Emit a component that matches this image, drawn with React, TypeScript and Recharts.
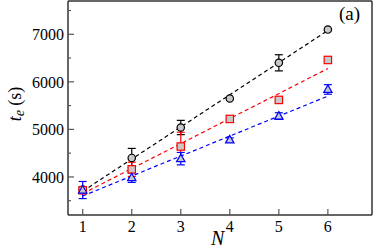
import { ComposedChart, Line, Scatter, ErrorBar, XAxis, YAxis } from "recharts";

const nValues = [1, 2, 3, 4, 5, 6];

const blackTe = [3735, 4400, 5040, 5650, 6400, 7100];
const blackErr = [60, 200, 150, null, 170, null];
const redTe = [3720, 4160, 4640, 5220, 5620, 6460];
const redErr = [60, 150, 300, null, null, null];
const blueTe = [3725, 3985, 4385, 4780, 5280, 5840];
const blueErr = [180, 100, 130, 40, 70, 100];

const fitN = [1, 6];
const blackFit = [3700, 7080];
const redFit = [3650, 6280];
const blueFit = [3600, 5700];

const xTicks = [1, 2, 3, 4, 5, 6];
const yTicks = [3500, 4000, 4500, 5000, 5500, 6000, 6500, 7000, 7500];

const FONT = "Liberation Serif, Times New Roman, DejaVu Serif, serif";

const points = (vals: number[], errs: (number | null)[]) =>
  nValues.map((n, i) => ({ n, y: vals[i], err: errs[i] }));
const fit = (vals: number[]) => fitN.map((n, i) => ({ n, y: vals[i] }));

const BottomTick = (props: any) => {
  const { x, y, payload } = props;
  return (
    <g>
      <line x1={x} y1={y} x2={x} y2={y - 6} stroke="#555" strokeWidth={1.2} />
      <text x={x} y={y + 17} textAnchor="middle" fontSize={16} fontFamily={FONT} fill="#000">
        {payload.value}
      </text>
    </g>
  );
};

const TopTick = (props: any) => {
  const { x, y } = props;
  return <line x1={x} y1={y} x2={x} y2={y + 6} stroke="#555" strokeWidth={1.2} />;
};

const LeftTick = (props: any) => {
  const { x, y, payload } = props;
  const major = payload.value % 1000 === 0;
  return (
    <g>
      <line x1={x} y1={y} x2={x + (major ? 6 : 3)} y2={y} stroke="#555" strokeWidth={1.2} />
      {major && (
        <text x={x - 4} y={y + 6} textAnchor="end" fontSize={16} fontFamily={FONT} fill="#000">
          {payload.value}
        </text>
      )}
    </g>
  );
};

const RightTick = (props: any) => {
  const { x, y, payload } = props;
  const major = payload.value % 1000 === 0;
  return <line x1={x} y1={y} x2={x - (major ? 6 : 3)} y2={y} stroke="#555" strokeWidth={1.2} />;
};

const circleShape = (p: any) => (
  <circle cx={p.cx} cy={p.cy} r={3.7} fill="#c8c8c8" stroke="#000" strokeWidth={1.2} />
);
const squareShape = (p: any) => (
  <rect x={p.cx - 3.7} y={p.cy - 3.7} width={7.4} height={7.4} fill="#c8c8c8" stroke="#ff0000" strokeWidth={1.2} />
);
const triangleShape = (p: any) => (
  <polygon
    points={`${p.cx},${p.cy - 4.5} ${p.cx - 4.2},${p.cy + 3} ${p.cx + 4.2},${p.cy + 3}`}
    fill="#c8c8c8"
    stroke="#0000ff"
    strokeWidth={1.2}
  />
);

export default function App() {
  return (
    <div style={{ position: "absolute", left: 0, top: 0, fontFamily: FONT }}>
      <ComposedChart width={374} height={249} margin={{ top: 0, right: 1, left: 0, bottom: 0 }}>
        <XAxis
          xAxisId={0}
          dataKey="n"
          type="number"
          domain={[0.7, 6.9]}
          ticks={xTicks}
          height={34}
          stroke="#333"
          strokeWidth={1.5}
          tickLine={false}
          tickSize={0}
          tickMargin={0}
          tick={BottomTick}
        />
        <XAxis
          xAxisId="top"
          orientation="top"
          dataKey="n"
          type="number"
          domain={[0.7, 6.9]}
          ticks={xTicks}
          height={1}
          stroke="#333"
          strokeWidth={1.5}
          tickLine={false}
          tickSize={0}
          tickMargin={0}
          tick={TopTick}
        />
        <YAxis
          yAxisId={0}
          type="number"
          domain={[3200, 7700]}
          ticks={yTicks}
          width={68}
          stroke="#333"
          strokeWidth={1.5}
          tickLine={false}
          tickSize={0}
          tickMargin={0}
          tick={LeftTick}
        />
        <YAxis
          yAxisId="right"
          orientation="right"
          type="number"
          domain={[3200, 7700]}
          ticks={yTicks}
          width={1}
          stroke="#333"
          strokeWidth={1.5}
          tickLine={false}
          tickSize={0}
          tickMargin={0}
          tick={RightTick}
        />

        <Line data={fit(blackFit)} dataKey="y" stroke="#000" strokeWidth={1.2} strokeDasharray="4 3" dot={false} isAnimationActive={false} />
        <Line data={fit(redFit)} dataKey="y" stroke="#ff0000" strokeWidth={1.2} strokeDasharray="4 3" dot={false} isAnimationActive={false} />
        <Line data={fit(blueFit)} dataKey="y" stroke="#0000ff" strokeWidth={1.2} strokeDasharray="4 3" dot={false} isAnimationActive={false} />

        <Scatter data={points(blackTe, blackErr)} dataKey="y" shape={circleShape} isAnimationActive={false}>
          <ErrorBar dataKey="err" direction="y" width={4} stroke="#000" strokeWidth={1.2} isAnimationActive={false} />
        </Scatter>
        <Scatter data={points(redTe, redErr)} dataKey="y" shape={squareShape} isAnimationActive={false}>
          <ErrorBar dataKey="err" direction="y" width={4} stroke="#ff0000" strokeWidth={1.2} isAnimationActive={false} />
        </Scatter>
        <Scatter data={points(blueTe, blueErr)} dataKey="y" shape={triangleShape} isAnimationActive={false}>
          <ErrorBar dataKey="err" direction="y" width={4} stroke="#0000ff" strokeWidth={1.2} isAnimationActive={false} />
        </Scatter>
      </ComposedChart>
      <div style={{ position: "absolute", left: 339, top: 3, fontSize: 19, color: "#000", lineHeight: "22px" }}>(a)</div>
      <div
        style={{
          position: "absolute",
          left: 211,
          top: 228,
          fontSize: 20,
          fontStyle: "italic",
          color: "#000",
          lineHeight: "20px",
        }}
      >
        N
      </div>
      <div
        style={{
          position: "absolute",
          left: 17,
          top: 104,
          transform: "translate(-50%, -50%) rotate(-90deg)",
          fontSize: 18,
          color: "#000",
          whiteSpace: "nowrap",
          lineHeight: "20px",
        }}
      >
        <i>t</i>
        <sub style={{ fontSize: 14, fontStyle: "italic", verticalAlign: "-3px" }}>e</sub> (s)
      </div>
    </div>
  );
}
